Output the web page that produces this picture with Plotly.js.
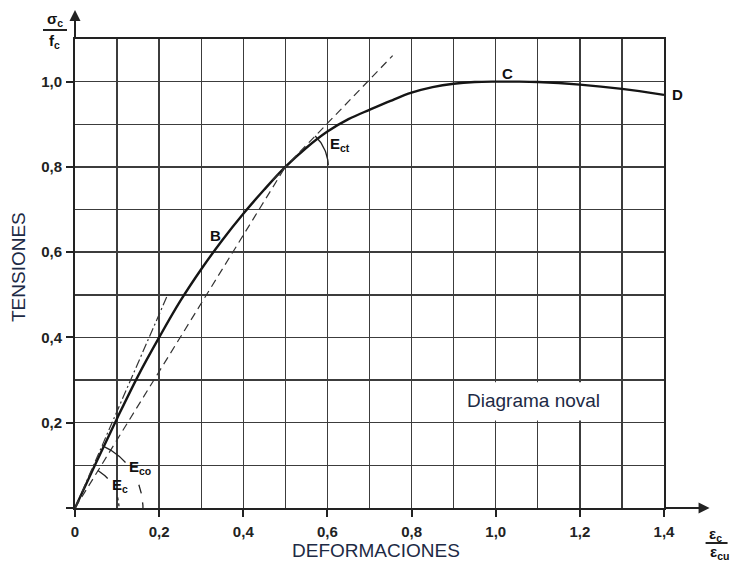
<!DOCTYPE html>
<html>
<head>
<meta charset="utf-8">
<script src="https://cdn.plot.ly/plotly-3.0.1.min.js"></script>
<style>html,body{margin:0;padding:0;background:#fff;}#chart{width:732px;height:563px;}</style>
</head>
<body>
<div id="chart"></div>
<script>
// ---- data ----
const strain = [0, 0.05, 0.1, 0.15, 0.2, 0.25, 0.3, 0.35, 0.4, 0.45, 0.5, 0.55, 0.6, 0.65, 0.7, 0.75, 0.8, 0.85, 0.9, 0.95, 1.0, 1.05, 1.1, 1.2, 1.3, 1.4];
const stress = [0, 0.106, 0.21, 0.31, 0.40, 0.485, 0.56, 0.628, 0.69, 0.747, 0.80, 0.845, 0.883, 0.912, 0.934, 0.955, 0.974, 0.987, 0.995, 0.999, 1.0, 1.0, 0.999, 0.993, 0.983, 0.969];
const tangentOriginX = [0, 0.218];
const tangentOriginY = [0, 0.495];
const secantX = [0, 0.5];
const secantY = [0, 0.8];
const tangentCtX = [0.47, 0.755];
const tangentCtY = [0.769, 1.061];
const xTickVals = [0, 0.2, 0.4, 0.6, 0.8, 1.0, 1.2, 1.4];
const xTickText = ['0', '0,2', '0,4', '0,6', '0,8', '1,0', '1,2', '1,4'];
const yTickVals = [0, 0.2, 0.4, 0.6, 0.8, 1.0];
const yTickText = ['', '0,2', '0,4', '0,6', '0,8', '1,0'];
const pointLabels = ['B', 'C', 'D'];
const pointLabelX = [0.333, 1.029, 1.432];
const pointLabelY = [0.64, 1.018, 0.971];
// arcs: centre (data), radius (px), start/end angle (deg, screen), dash
const arcCx = [0, 0, 0, 0, 0.5];
const arcCy = [0, 0, 0, 0, 0.8];
const arcR = [68, 68, 44, 44, 43];
const arcA0 = [66.5, 20, 58.5, 14, 46];
const arcA1 = [42, 0, 42, 0, 2];
const arcDash = ['solid', 'dash', 'solid', 'dot', 'solid'];

// ---- geometry ----
const W = 732, H = 563;
const M = {l: 75, r: 67.6, t: 39, b: 55};
const xRange = [0, 1.4], yRange = [0, 1.1];
const pw = W - M.l - M.r, ph = H - M.t - M.b;
const pxPerX = pw / (xRange[1] - xRange[0]);
const pxPerY = ph / (yRange[1] - yRange[0]);
const px2paperX = p => (p - M.l) / pw;
const px2paperY = p => (H - M.b - p) / ph;
const dataToPaperX = v => (v - xRange[0]) / (xRange[1] - xRange[0]);
const dataToPaperY = v => (v - yRange[0]) / (yRange[1] - yRange[0]);

const ink = '#151515';
const gridC = '#3c3c3c';
const navy = '#1d2a45';

const traces = [];
traces.push({x: strain, y: stress, mode: 'lines', line: {color: ink, width: 2.4, shape: 'spline', smoothing: 1}, cliponaxis: false, hoverinfo: 'skip'});
traces.push({x: tangentOriginX, y: tangentOriginY, mode: 'lines', line: {color: '#333', width: 1.2, dash: '9px,3px,2px,3px'}, hoverinfo: 'skip'});
traces.push({x: secantX, y: secantY, mode: 'lines', line: {color: '#333', width: 1.2, dash: '8px,5px'}, hoverinfo: 'skip'});
traces.push({x: tangentCtX, y: tangentCtY, mode: 'lines', line: {color: '#333', width: 1.2, dash: '8px,5px'}, cliponaxis: false, hoverinfo: 'skip'});

for (let i = 0; i < arcCx.length; i++) {
  const ax = [], ay = [];
  const n = 24;
  for (let k = 0; k <= n; k++) {
    const a = (arcA0[i] + (arcA1[i] - arcA0[i]) * k / n) * Math.PI / 180;
    ax.push(arcCx[i] + arcR[i] * Math.cos(a) / pxPerX);
    ay.push(arcCy[i] + arcR[i] * Math.sin(a) / pxPerY);
  }
  traces.push({x: ax, y: ay, mode: 'lines', line: {color: '#222', width: 1.3, dash: arcDash[i]}, hoverinfo: 'skip', cliponaxis: false});
}

const tickFont = {family: 'Liberation Sans, Arial, sans-serif', size: 15, color: '#222', weight: 'bold'};
const letterFont = {family: 'Liberation Sans, Arial, sans-serif', size: 15, color: '#111', weight: 'bold'};
const titleFont = {family: 'Liberation Sans, Arial, sans-serif', size: 19, color: navy};

const annotations = [];
pointLabels.forEach((t, i) => annotations.push({x: dataToPaperX(pointLabelX[i]), y: dataToPaperY(pointLabelY[i]), xref: 'paper', yref: 'paper', text: t, showarrow: false, font: letterFont, xanchor: 'center', yanchor: 'middle'}));
annotations.push({x: 0.1235, y: 0.094, xref: 'x', yref: 'y', text: 'E<sub>co</sub>', showarrow: false, font: letterFont, xanchor: 'left', yanchor: 'middle'});
annotations.push({x: 0.083, y: 0.052, xref: 'x', yref: 'y', text: 'E<sub>c</sub>', showarrow: false, font: letterFont, xanchor: 'left', yanchor: 'middle'});
annotations.push({x: 0.601, y: 0.852, xref: 'x', yref: 'y', text: 'E<sub>ct</sub>', showarrow: false, font: letterFont, xanchor: 'left', yanchor: 'middle'});
annotations.push({x: 1.09, y: 0.253, xref: 'x', yref: 'y', text: 'Diagrama noval', showarrow: false, font: titleFont, xanchor: 'center', yanchor: 'middle'});
annotations.push({x: px2paperX(18), y: px2paperY(267), xref: 'paper', yref: 'paper', text: 'TENSIONES', textangle: -90, showarrow: false, font: titleFont, xanchor: 'center', yanchor: 'middle'});
annotations.push({x: px2paperX(376), y: px2paperY(550), xref: 'paper', yref: 'paper', text: 'DEFORMACIONES', showarrow: false, font: titleFont, xanchor: 'center', yanchor: 'middle'});
// fraction labels of axes
annotations.push({x: px2paperX(55), y: px2paperY(20), xref: 'paper', yref: 'paper', text: 'σ<sub>c</sub>', showarrow: false, font: letterFont, xanchor: 'center', yanchor: 'middle'});
annotations.push({x: px2paperX(54), y: px2paperY(41), xref: 'paper', yref: 'paper', text: 'f<sub>c</sub>', showarrow: false, font: letterFont, xanchor: 'center', yanchor: 'middle'});
annotations.push({x: px2paperX(716), y: px2paperY(534), xref: 'paper', yref: 'paper', text: 'ε<sub>c</sub>', showarrow: false, font: letterFont, xanchor: 'center', yanchor: 'middle'});
annotations.push({x: px2paperX(708), y: px2paperY(552), xref: 'paper', yref: 'paper', text: 'ε<sub>cu</sub>', showarrow: false, font: letterFont, xanchor: 'left', yanchor: 'middle'});
// axis arrows
annotations.push({x: 0, y: px2paperY(10), xref: 'x', yref: 'paper', text: '', showarrow: true, ax: 0, ay: 29, arrowhead: 2, arrowsize: 1.1, arrowwidth: 2, arrowcolor: '#222'});
annotations.push({x: px2paperX(710), y: 0, xref: 'paper', yref: 'paper', text: '', showarrow: true, ax: -(710 - (W - M.r)), ay: 0, arrowhead: 2, arrowsize: 1.1, arrowwidth: 2, arrowcolor: '#222'});

const shapes = [
  {type: 'rect', xref: 'x', yref: 'y', x0: 0.91, x1: 1.29, y0: 0.205, y1: 0.295, fillcolor: '#fff', line: {width: 0}, layer: 'between'},
  {type: 'line', xref: 'paper', yref: 'paper', x0: px2paperX(43), x1: px2paperX(67), y0: px2paperY(30), y1: px2paperY(30), line: {color: '#222', width: 2}},
  {type: 'line', xref: 'paper', yref: 'paper', x0: px2paperX(706), x1: px2paperX(728), y0: px2paperY(543), y1: px2paperY(543), line: {color: '#222', width: 2}}
];

const axisCommon = {
  showgrid: true, gridcolor: gridC, gridwidth: 1.4,
  showline: true, mirror: true, linecolor: '#222', linewidth: 2,
  zeroline: false, ticks: 'outside', ticklen: 7, tickwidth: 2, tickcolor: '#222',
  tickfont: tickFont, fixedrange: true, tickmode: 'array'
};

const layout = {
  width: W, height: H, autosize: false,
  margin: M,
  paper_bgcolor: '#fff', plot_bgcolor: '#fff',
  showlegend: false,
  xaxis: Object.assign({}, axisCommon, {range: xRange, tickvals: xTickVals, ticktext: xTickText, ticklabelstandoff: 2,
    minor: {tickmode: 'linear', tick0: 0, dtick: 0.1, showgrid: true, gridcolor: gridC, gridwidth: 1.4, ticks: ''}}),
  yaxis: Object.assign({}, axisCommon, {range: yRange, tickvals: yTickVals, ticktext: yTickText, ticklabelstandoff: 1,
    minor: {tickmode: 'linear', tick0: 0, dtick: 0.1, showgrid: true, gridcolor: gridC, gridwidth: 1.4, ticks: ''}}),
  annotations: annotations,
  shapes: shapes
};

Plotly.newPlot('chart', traces, layout, {displayModeBar: false, staticPlot: true});
</script>
</body>
</html>
